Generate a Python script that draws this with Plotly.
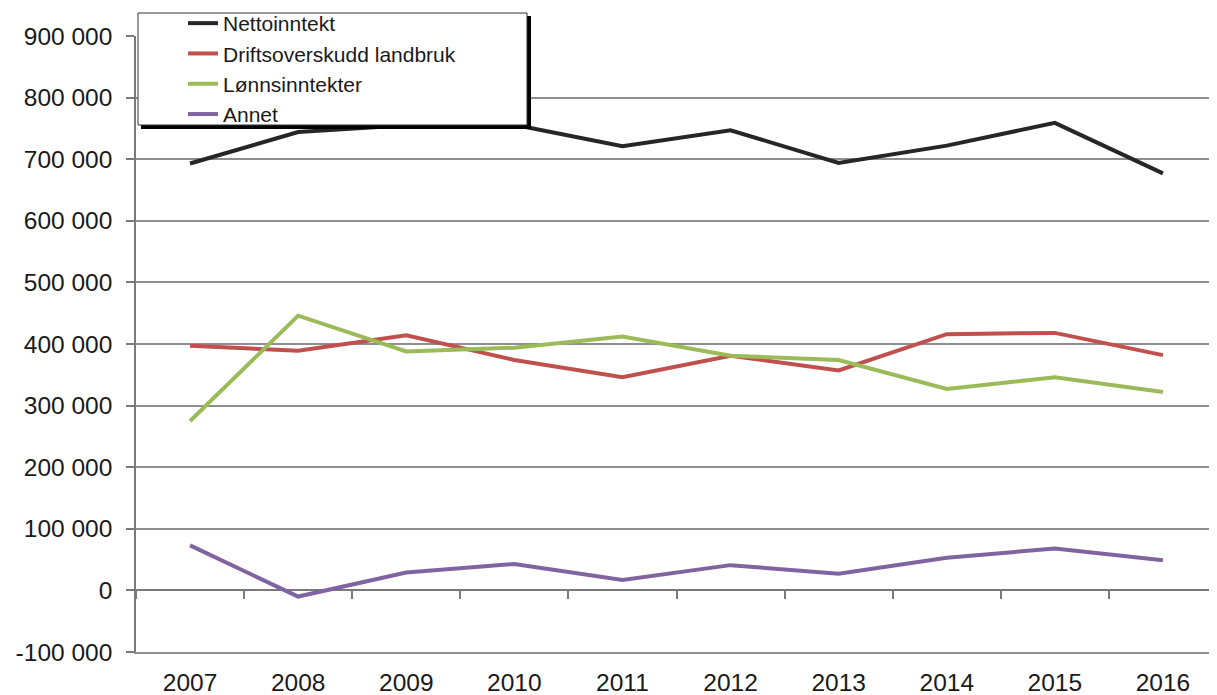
import plotly.graph_objects as go

years = ['2007', '2008', '2009', '2010', '2011', '2012', '2013', '2014', '2015', '2016']
nettoinntekt = [693000, 744000, 755000, 756000, 721000, 747000, 694000, 722000, 759000, 677000]
driftsoverskudd = [397000, 389000, 414000, 374000, 346000, 381000, 357000, 416000, 418000, 382000]
lonnsinntekter = [275000, 446000, 388000, 394000, 412000, 381000, 374000, 327000, 346000, 322000]
annet = [73000, -10000, 29000, 43000, 17000, 41000, 27000, 53000, 68000, 49000]

y_tickvals = [-100000, 0, 100000, 200000, 300000, 400000, 500000, 600000, 700000, 800000, 900000]
y_ticktext = ['-100 000', '0', '100 000', '200 000', '300 000', '400 000', '500 000',
              '600 000', '700 000', '800 000', '900 000']

series = [
    ('Nettoinntekt', nettoinntekt, '#262626', 4),
    ('Driftsoverskudd landbruk', driftsoverskudd, '#C0504D', 4),
    ('Lønnsinntekter', lonnsinntekter, '#9BBB59', 4),
    ('Annet', annet, '#8064A2', 4),
]

# page body has an 8px margin; figure is sized so the plot lands where the reference has it
OFF = 8
W, H = 1209, 687
L, R, T, B = 128, 0, 28, 43
PW, PH = W - L - R, H - T - B


def px(x):  # window pixel -> paper x
    return (x - OFF - L) / PW


def py(y):  # window pixel -> paper y
    return (H - B - (y - OFF)) / PH


fig = go.Figure()
for name, vals, color, width in series:
    fig.add_trace(go.Scatter(x=years, y=vals, name=name, mode='lines',
                             line=dict(color=color, width=width)))

# second x axis: the zero line with boundary ticks
fig.add_trace(go.Scatter(x=[None], y=[None], xaxis='x2', showlegend=False, hoverinfo='skip'))

font_family = 'Liberation Sans, Arial, sans-serif'
grid = '#8f8f8f'

fig.update_layout(
    width=W, height=H,
    margin=dict(l=L, r=R, t=T, b=B, autoexpand=False),
    paper_bgcolor='white', plot_bgcolor='white',
    font=dict(family=font_family, color='#1a1a1a', size=24),
    showlegend=True,
    legend=dict(
        x=px(183), y=py(3), xanchor='left', yanchor='top',
        bgcolor='rgba(0,0,0,0)', borderwidth=0,
        font=dict(size=21, family=font_family, color='#1a1a1a'),
        tracegroupgap=0,
    ),
    xaxis=dict(
        type='category', range=[-0.5, 9.5],
        showgrid=False, zeroline=False,
        showline=True, linecolor=grid, linewidth=1.5,
        ticks='', ticklabelstandoff=8,
        tickfont=dict(size=24.5),
        fixedrange=True,
    ),
    xaxis2=dict(
        overlaying='x', anchor='free', position=0.1, side='bottom',
        range=[-0.5, 9.5], tickmode='linear', tick0=-0.5, dtick=1,
        showgrid=False, zeroline=False, showticklabels=False,
        showline=True, linecolor='#7a7a7a', linewidth=1.5,
        ticks='outside', ticklen=8, tickwidth=1.5, tickcolor='#7a7a7a',
        layer='below traces',
    ),
    yaxis=dict(
        range=[-100000, 900000],
        tickmode='array', tickvals=y_tickvals, ticktext=y_ticktext,
        showgrid=True, gridcolor=grid, gridwidth=1.5,
        zeroline=False,
        showline=True, linecolor='#7a7a7a', linewidth=1.5,
        ticks='outside', ticklen=8, tickwidth=1.5, tickcolor='#7a7a7a',
        ticklabelstandoff=9,
        tickfont=dict(size=24.5),
        fixedrange=True,
    ),
    shapes=[
        dict(type='rect', xref='paper', yref='paper', layer='above',
             x0=px(141), x1=px(531), y0=py(129), y1=py(16),
             fillcolor='#000000', line=dict(width=0)),
        dict(type='rect', xref='paper', yref='paper', layer='above',
             x0=px(138), x1=px(527), y0=py(125), y1=py(13),
             fillcolor='white', line=dict(color='#333333', width=1)),
    ],
)

fig.write_html('out.html')
